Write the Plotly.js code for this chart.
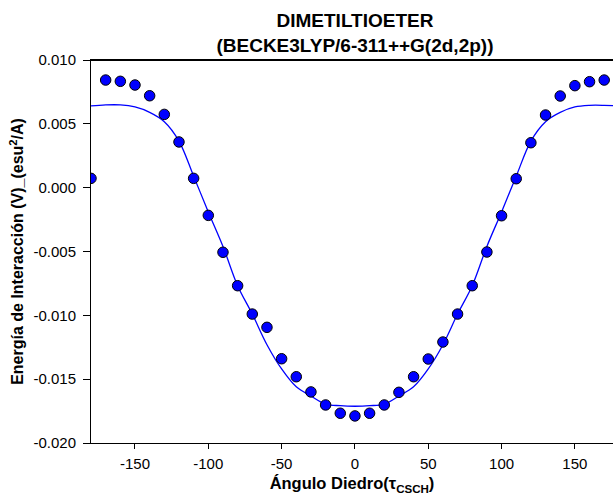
<!DOCTYPE html>
<html>
<head>
<meta charset="utf-8">
<script src="https://cdn.plot.ly/plotly-3.0.1.min.js"></script>
<style>html,body{margin:0;padding:0;overflow:hidden;background:#fff;}</style>
</head>
<body>
<div id="chart" style="width:613px;height:497px;"></div>
<script>
// Measured points: dihedral angle (deg) vs interaction energy
const angles = [-180,-170,-160,-150,-140,-130,-120,-110,-100,-90,-80,-70,-60,-50,-40,-30,-20,-10,
                0,10,20,30,40,50,60,70,80,90,100,110,120,130,140,150,160,170];
const energies = [0.00073,0.00843,0.00833,0.00804,0.00720,0.00574,0.00358,0.00073,-0.00217,-0.00506,
                  -0.00768,-0.00990,-0.01094,-0.01340,-0.01481,-0.01600,-0.01702,-0.01767,
                  -0.01788,-0.01767,-0.01702,-0.01603,-0.01481,-0.01342,-0.01209,-0.00990,-0.00768,
                  -0.00504,-0.00220,0.00070,0.00352,0.00569,0.00718,0.00799,0.00830,0.00843];

// Fitted curve
const fitAngles = [-180,-170,-160,-150,-140,-130,-120,-110,-100,-90,-80,-70,-60,-50,-40,-30,-20,-10,
                   0,10,20,30,40,50,60,70,80,90,100,110,120,130,140,150,160,170,180];
const fitEnergies = [0.00640,0.00648,0.00648,0.00632,0.00590,0.00517,0.00365,0.00090,-0.00190,-0.00460,
                     -0.00768,-0.00990,-0.01230,-0.01420,-0.01560,-0.01632,-0.01695,-0.01708,
                     -0.01712,-0.01708,-0.01695,-0.01632,-0.01560,-0.01420,-0.01230,-0.00990,-0.00768,
                     -0.00460,-0.00190,0.00090,0.00365,0.00517,0.00590,0.00632,0.00645,0.00645,0.00640];

const xTickVals = [-150,-100,-50,0,50,100,150];
const xTickText = ['-150','-100','-50','0','50','100','150'];
const yTickVals = [-0.020,-0.015,-0.010,-0.005,0.000,0.005,0.010];
const yTickText = ['-0.020','-0.015','-0.010','-0.005','0.000','0.005','0.010'];

const FONT = 'Arial, "Liberation Sans", sans-serif';

const traces = [
  {
    x: fitAngles, y: fitEnergies, type: 'scatter', mode: 'lines',
    line: {color: '#0000ff', width: 1.3, shape: 'spline', smoothing: 1},
    hoverinfo: 'skip', showlegend: false
  },
  {
    x: angles, y: energies, type: 'scatter', mode: 'markers',
    marker: {color: '#0000ff', size: 10.5, line: {color: '#000000', width: 1}},
    showlegend: false
  }
];

const layout = {
  width: 613, height: 497,
  margin: {l: 91, r: 0, t: 60, b: 54, pad: 0},
  paper_bgcolor: '#ffffff', plot_bgcolor: '#ffffff',
  font: {family: FONT, color: '#000000', size: 15},
  title: {
    text: '<b>DIMETILTIOETER<br>(BECKE3LYP/6-311++G(2d,2p))</b>',
    font: {family: FONT, size: 19, color: '#000000'},
    xref: 'paper', x: 0.5057, xanchor: 'center',
    yref: 'container', y: 0.945, yanchor: 'top'
  },
  shapes: [
    {type: 'line', xref: 'x', yref: 'y', x0: -180, x1: 176, y0: 0.010, y1: 0.010,
     layer: 'above', line: {color: '#000000', width: 2}}
  ],
  xaxis: {
    range: [-180, 176], showgrid: false, zeroline: false,
    showline: true, linecolor: '#000000', linewidth: 1, mirror: true,
    ticks: 'outside', ticklen: 5, tickwidth: 1, tickcolor: '#000000',
    tickvals: xTickVals, ticktext: xTickText, ticklabelstandoff: 2,
    tickfont: {family: FONT, size: 15, color: '#000000'},
    title: {text: '<b>Ángulo Diedro(τ<sub>CSCH</sub>)</b>', font: {family: FONT, size: 16.5, color: '#000000'}, standoff: 6}
  },
  yaxis: {
    range: [-0.020, 0.010], showgrid: false, zeroline: false,
    showline: true, linecolor: '#000000', linewidth: 1, mirror: false,
    ticks: 'outside', ticklen: 7, tickwidth: 1, tickcolor: '#000000',
    tickvals: yTickVals, ticktext: yTickText, ticklabelstandoff: 4,
    tickfont: {family: FONT, size: 15, color: '#000000'},
    title: {text: '<b>Energía de Interacción (V)_(esu<sup>2</sup>/A)</b>', font: {family: FONT, size: 16, color: '#000000'}, standoff: 5}
  }
};

Plotly.newPlot('chart', traces, layout, {displayModeBar: false, staticPlot: true});
</script>
</body>
</html>
